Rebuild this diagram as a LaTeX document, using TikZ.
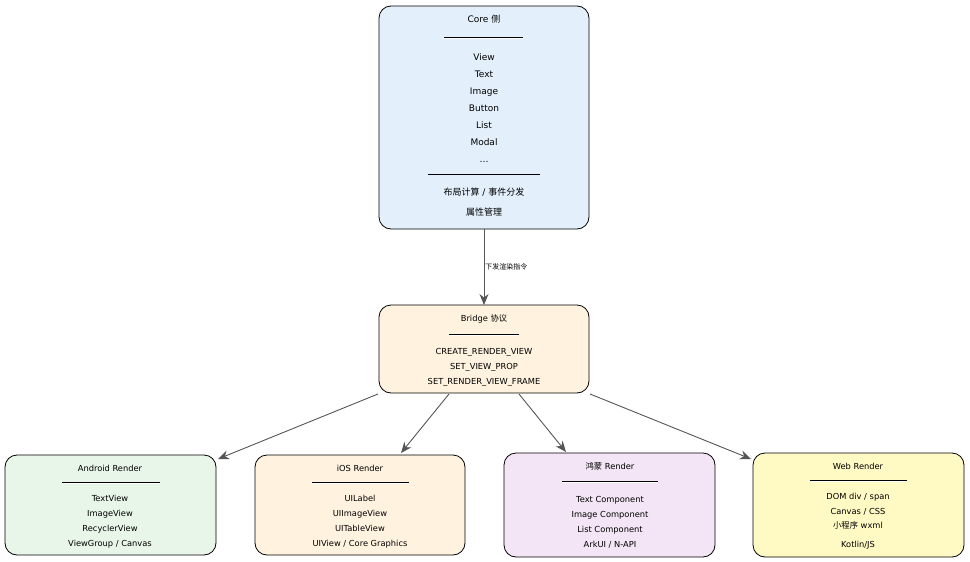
\documentclass[tikz,border=0pt]{standalone}
\usepackage{fontspec}
\setmainfont{DejaVu Sans}
\newfontfamily\cjk{Noto Sans CJK SC}
\usetikzlibrary{arrows.meta}
\definecolor{cblue}{HTML}{E3F0FB}
\definecolor{corange}{HTML}{FFF2DF}
\definecolor{cgreen}{HTML}{E8F5E9}
\definecolor{cpurple}{HTML}{F3E5F5}
\definecolor{cyellow}{HTML}{FFF9C4}
\definecolor{arr}{HTML}{555555}
\begin{document}
\begin{tikzpicture}[x=1pt,y=-1pt,
  box/.style={draw=black,line width=0.8pt,rounded corners=12pt},
  t/.style={inner sep=0pt,anchor=base,font=\fontsize{9}{10}\selectfont},
  s/.style={inner sep=0pt,anchor=base,font=\fontsize{8.3}{10}\selectfont},
  dbl/.style={line width=0.4pt,double distance=1pt,draw=black},
  ar/.style={draw=arr,line width=0.9pt,-{Stealth[length=11pt,width=9pt]}}]
\path[use as bounding box] (0,0) rectangle (970,562);
% Core
\draw[box,fill=cblue] (379,6) rectangle (589,229);
\coordinate (coreB) at (484,229);
\node[t] (c0) at (484,22) {Core {\cjk 侧}};
\draw[dbl] (444,38) -- (523,38);
\node[t] (c1) at (484,60) {View};
\node[t] (c2) at (484,77) {Text};
\node[t] (c3) at (484,94) {Image};
\node[t] (c4) at (484,111) {Button};
\node[t] (c5) at (484,128) {List};
\node[t] (c6) at (484,145) {Modal};
\node[t] (c7) at (484,162) {\ldots};
\draw[line width=0.6pt] (428,174) -- (540,174);
\node[t] (c8) at (484,195) {{\cjk 布局计算} / {\cjk 事件分发}};
\node[t] (c9) at (484,215) {\cjk 属性管理};
% Bridge
\draw[box,fill=corange] (379,305) rectangle (589,393);
\coordinate (brT) at (484,305);
\node[s] (b0) at (484,321) {Bridge {\cjk 协议}};
\draw[dbl] (449,335) -- (519,335);
\node[s] (b1) at (484,354) {CREATE\_RENDER\_VIEW};
\node[s] (b2) at (484,369) {SET\_VIEW\_PROP};
\node[s] (b3) at (484,384) {SET\_RENDER\_VIEW\_FRAME};
% arrows
\draw[ar] (coreB) -- (brT) node[midway,right,inner sep=1pt,font=\cjk\fontsize{7}{8}\selectfont] {下发渲染指令};
% Android
\draw[box,fill=cgreen] (5,455) rectangle (216,555);
\node[s] (a0) at (110,471) {Android Render};
\draw[dbl] (62,483) -- (160,483);
\node[s] (a1) at (110,501) {TextView};
\node[s] (a2) at (110,516) {ImageView};
\node[s] (a3) at (110,531) {RecyclerView};
\node[s] (a4) at (110,546) {ViewGroup / Canvas};
% iOS
\draw[box,fill=corange] (255,455) rectangle (465,555);
\node[s] (i0) at (360,471) {iOS Render};
\draw[dbl] (312,483) -- (409,483);
\node[s] (i1) at (360,501) {UILabel};
\node[s] (i2) at (360,516) {UIImageView};
\node[s] (i3) at (360,531) {UITableView};
\node[s] (i4) at (360,546) {UIView / Core Graphics};
% Harmony
\draw[box,fill=cpurple] (504,453) rectangle (715,557);
\node[s] (h0) at (610,469) {{\cjk 鸿蒙} Render};
\draw[dbl] (562,482) -- (658,482);
\node[s] (h1) at (610,502) {Text Component};
\node[s] (h2) at (610,517) {Image Component};
\node[s] (h3) at (610,532) {List Component};
\node[s] (h4) at (610,547) {ArkUI / N-API};
% Web
\draw[box,fill=cyellow] (753,453) rectangle (964,557);
\node[s] (w0) at (858,469) {Web Render};
\draw[dbl] (810,481) -- (907,481);
\node[s] (w1) at (858,499) {DOM div / span};
\node[s] (w2) at (858,514) {Canvas / CSS};
\node[s] (w3) at (858,528) {{\cjk 小程序} wxml};
\node[s] (w4) at (858,547) {Kotlin/JS};
% bridge arrows
\draw[ar] (378,394) -- (218,459);
\draw[ar] (449,394) -- (401,453);
\draw[ar] (519,394) -- (566,452);
\draw[ar] (590,394) -- (751,459);
\end{tikzpicture}
\end{document}
